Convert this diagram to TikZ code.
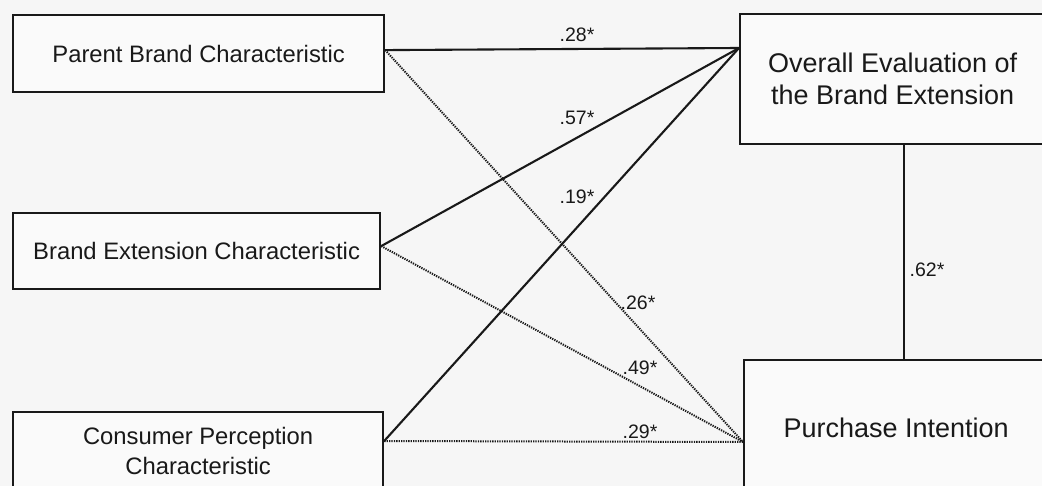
\documentclass[tikz,border=0pt]{standalone}
\usepackage{fontspec}
\setmainfont{Liberation Sans}
\definecolor{bg}{RGB}{246,246,246}
\definecolor{boxfill}{RGB}{250,250,250}
\definecolor{ink}{RGB}{25,25,25}
\begin{document}
\begin{tikzpicture}[x=1pt,y=-1pt,
  box/.style={draw=ink, line width=2.2pt, fill=boxfill, rectangle, inner sep=0pt, align=center, anchor=north west, text=ink},
  small/.style={font=\fontsize{23.8}{30}\selectfont},
  big/.style={font=\fontsize{27}{32}\selectfont},
  lab/.style={font=\fontsize{19.5}{22}\selectfont, inner sep=0pt, text=ink},
  solidln/.style={draw=ink, line width=2.1pt},
  dotln/.style={draw=ink, line width=2pt, dash pattern=on 1.3pt off 1.1pt}]
\clip (0,0) rectangle (1042,486);
\fill[bg] (0,0) rectangle (1042,486);
% boxes
\node[box, small, minimum width=371pt, minimum height=77pt] (pb) at (12,14) {Parent Brand Characteristic};
\node[box, small, minimum width=367pt, minimum height=76pt] (be) at (12,212) {Brand Extension Characteristic};
\node[box, small, minimum width=370pt, minimum height=77pt] (cp) at (12,411) {Consumer Perception\\Characteristic};
\node[box, big, minimum width=305pt, minimum height=130pt] (oe) at (739,13) {Overall Evaluation of\\the Brand Extension};
\node[box, big, minimum width=304pt, minimum height=136pt] (pi) at (743,359) {Purchase Intention};
% attachment points
\coordinate (oeIn) at ([yshift=-35pt]oe.north west);
\coordinate (piIn) at ([yshift=-83pt]pi.north west);
\coordinate (pbOut) at ([yshift=3.5pt]pb.east);
\coordinate (beOut) at ([yshift=5pt]be.east);
\coordinate (cpOut) at ([yshift=-30pt]cp.north east);
% solid paths to overall evaluation
\draw[solidln] (pbOut) -- (oeIn);
\draw[solidln] (beOut) -- (oeIn);
\draw[solidln] (cpOut) -- (oeIn);
% dotted paths to purchase intention
\draw[dotln] (pbOut) -- (piIn);
\draw[dotln] (beOut) -- (piIn);
\draw[dotln] (cpOut) -- (piIn);
% vertical link
\draw[solidln] ([xshift=165pt]oe.south west) -- ([xshift=161pt]pi.north west);
% labels
\node[lab] (l28) at (577,35) {.28*};
\node[lab] (l57) at (577,118) {.57*};
\node[lab] (l19) at (577,197) {.19*};
\node[lab] (l26) at (638,303) {.26*};
\node[lab] (l49) at (640,368) {.49*};
\node[lab] (l29) at (640,432) {.29*};
\node[lab] (l62) at (927,270) {.62*};
\end{tikzpicture}
\end{document}
